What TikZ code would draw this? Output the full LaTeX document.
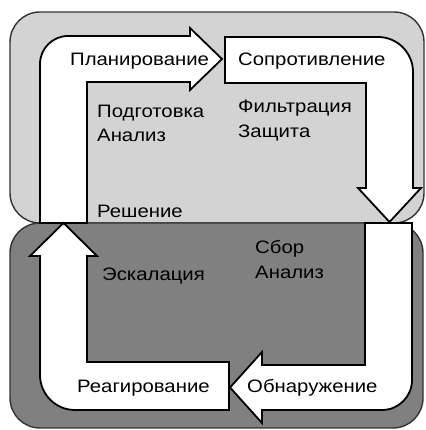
\documentclass[tikz,border=0pt]{standalone}
\usepackage{fontspec}
\setmainfont{Liberation Sans}[FakeStretch=1.13]
\definecolor{upperfill}{RGB}{211,211,211}
\definecolor{lowerfill}{RGB}{128,128,128}
\definecolor{framecol}{RGB}{50,50,50}
\begin{document}
\begin{tikzpicture}[x=1pt,y=1pt,
  zone/.style={draw=framecol,line width=1.4pt,rounded corners=30pt},
  band/.style={draw=black,fill=white,line width=1.8pt,line join=miter},
  lbl/.style={anchor=base west,inner sep=0pt,font=\fontsize{18}{21}\selectfont}]
\useasboundingbox (0,0) rectangle (425,430);
% zones
\path[zone,fill=upperfill] (10,207) rectangle (424,418);
\path[zone,fill=lowerfill] (10,2) rectangle (423,207);
% Planning band
\path[band] (40,207) -- (40,366) arc[start angle=180,end angle=90,radius=28]
  -- (190,394) -- (190,402) -- (222,371) -- (190,340) -- (190,348)
  -- (87,348) -- (87,207) -- cycle;
% Resistance band
\path[band] (225,347) -- (225,393) -- (378,393) arc[start angle=90,end angle=0,radius=35]
  -- (413,242) -- (421,242) -- (389.5,208) -- (358,242) -- (366,242)
  -- (366,347) -- cycle;
% Detection band
\path[band] (365,207) -- (412,207) -- (412,50) arc[start angle=0,end angle=-90,radius=30]
  -- (262,20) -- (262,7) -- (230,42.5) -- (262,78) -- (262,65)
  -- (365,65) -- cycle;
% Response band
\path[band] (229,68) -- (229,20) -- (75,20) arc[start angle=270,end angle=180,radius=35]
  -- (40,174) -- (30,174) -- (63.5,207) -- (97,174) -- (87,174)
  -- (87,68) -- cycle;
% labels
\node[lbl] (plan) at (70,364) {Планирование};
\node[lbl] (res) at (238,364) {Сопротивление};
\node[lbl] (prep) at (97,312) {Подготовка};
\node[lbl] (anal1) at (97,288) {Анализ};
\node[lbl] (dec) at (97,212) {Решение};
\node[lbl] (filt) at (238,317) {Фильтрация};
\node[lbl] (prot) at (238,292) {Защита};
\node[lbl] (coll) at (255,176) {Сбор};
\node[lbl] (anal2) at (255,151) {Анализ};
\node[lbl] (esc) at (102,149) {Эскалация};
\node[lbl] (resp) at (77,37) {Реагирование};
\node[lbl] (det) at (247,37) {Обнаружение};
\end{tikzpicture}
\end{document}
